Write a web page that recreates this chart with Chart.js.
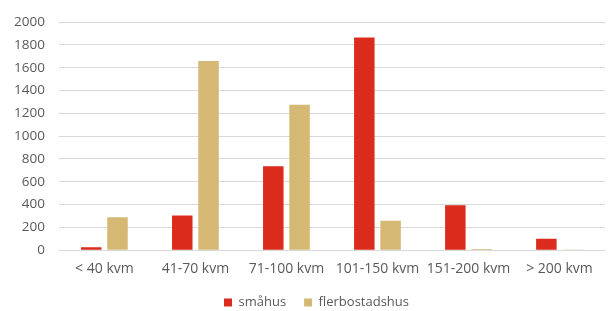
<!DOCTYPE html>
<html>
<head>
<meta charset="utf-8">
<script src="https://cdn.jsdelivr.net/npm/chart.js@4/dist/chart.umd.min.js"></script>
<style>
html,body{margin:0;padding:0;background:#fff;}
#wrap{width:608px;height:311px;}
</style>
</head>
<body>
<div id="wrap"><canvas id="c" width="608" height="311"></canvas></div>
<script>
const categories = ["< 40 kvm", "41-70 kvm", "71-100 kvm", "101-150 kvm", "151-200 kvm", "> 200 kvm"];
const smahus = [25, 305, 735, 1865, 395, 100];
const flerbostadshus = [290, 1660, 1275, 258, 10, 2];
const seriesNames = ["småhus", "flerbostadshus"];

const FONT = "'Open Sans', 'Liberation Sans', sans-serif";
const legendShift = {
  id: 'legendShift',
  beforeUpdate(chart) {
    const lg = chart.legend;
    if (lg && !lg._patched) {
      const orig = lg.fit.bind(lg);
      lg.fit = function () { orig(); this.height -= 8; };
      lg._patched = true;
    }
  },
  afterLayout(chart) {
    const lg = chart.legend;
    if (lg) { lg.left += 14; lg.right += 14; }
  }
};
new Chart(document.getElementById('c'), {
  type: 'bar',
  data: {
    labels: categories,
    datasets: [
      { label: seriesNames[0], data: smahus, backgroundColor: '#da2b1c', barPercentage: 0.78, categoryPercentage: 0.577 },
      { label: seriesNames[1], data: flerbostadshus, backgroundColor: '#d5b873', barPercentage: 0.78, categoryPercentage: 0.577 }
    ]
  },
  plugins: [legendShift],
  options: {
    responsive: false,
    animation: false,
    devicePixelRatio: 1,
    layout: { padding: { left: 0, right: 3, top: 3, bottom: 0 } },
    plugins: {
      tooltip: { enabled: false },
      legend: {
        position: 'bottom',
        labels: { boxWidth: 8, boxHeight: 8, color: '#595959', font: { family: FONT, size: 13 }, padding: 18 }
      }
    },
    scales: {
      x: {
        grid: { display: false, drawTicks: false },
        border: { display: true, color: '#d9d9d9', width: 1 },
        ticks: { color: '#595959', font: { family: FONT, size: 14 }, padding: 10, maxRotation: 0 },
        afterFit: function(scale){ scale.height -= 9; }
      },
      y: {
        min: 0, max: 2000,
        grid: { color: '#d9d9d9', lineWidth: 1, drawTicks: false },
        border: { display: false },
        ticks: { stepSize: 200, color: '#595959', font: { family: FONT, size: 13.5 }, padding: 14,
                 callback: function(v){ return String(v); } }
      }
    }
  }
});
</script>
</body>
</html>
